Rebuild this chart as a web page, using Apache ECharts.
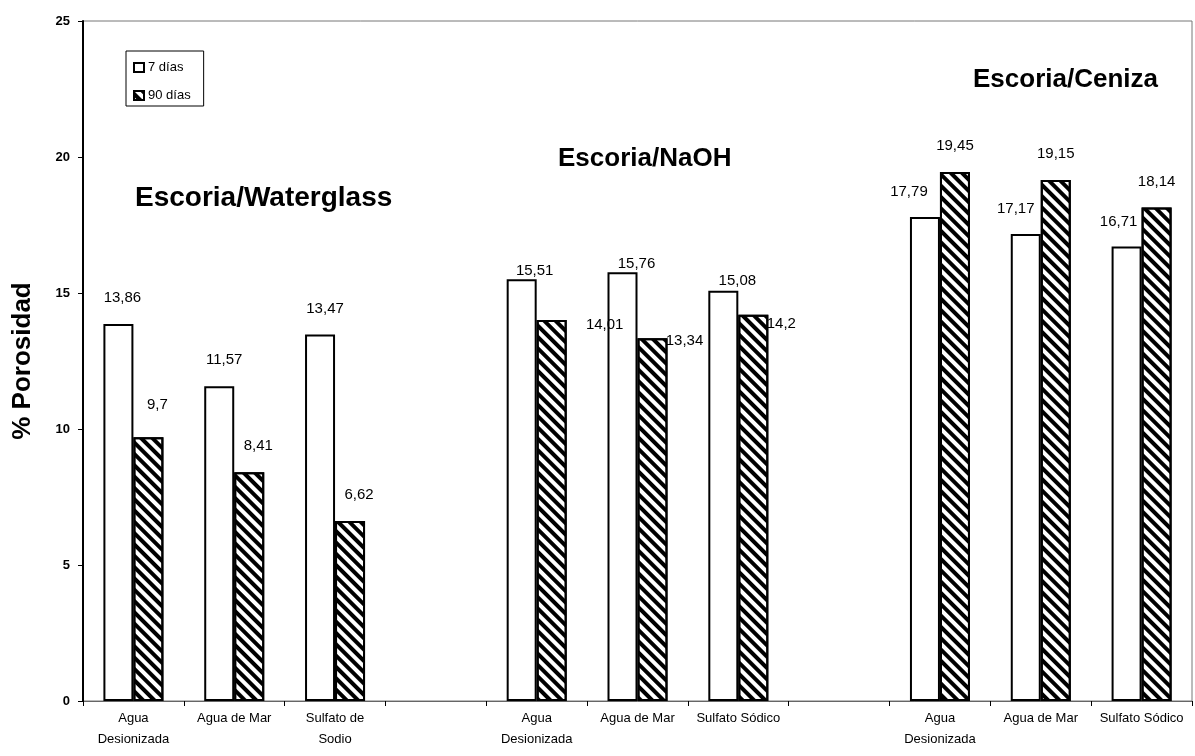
<!DOCTYPE html>
<html>
<head>
<meta charset="utf-8">
<script src="https://cdn.jsdelivr.net/npm/echarts@6/dist/echarts.min.js"></script>
<style>
html,body{margin:0;padding:0;background:#fff;}
#chart{width:1195px;height:756px;}
</style>
</head>
<body>
<div id="chart"></div>
<script>
const categories = ['Agua\nDesionizada', 'Agua de Mar', 'Sulfato de\nSodio', '', 'Agua\nDesionizada', 'Agua de Mar', 'Sulfato Sódico', '', 'Agua\nDesionizada', 'Agua de Mar', 'Sulfato Sódico'];
const dias7 = [13.86, 11.57, 13.47, '-', 15.51, 15.76, 15.08, '-', 17.79, 17.17, 16.71];
const dias90 = [9.7, 8.41, 6.62, '-', 14.01, 13.34, 14.2, '-', 19.45, 19.15, 18.14];
const yTicks = [0, 5, 10, 15, 20, 25];
const groupTitles = ['Escoria/Waterglass', 'Escoria/NaOH', 'Escoria/Ceniza'];
const seriesNames = ['7 días', '90 días'];

// label offsets (style only), relative to bar top-centre
const off7 = [[4,-26],[5,-26],[5,-26],[0,0],[13,-8],[14,-8],[14,-10],[0,0],[-16,-25],[-10,-25],[-8,-25]];
const off90 = [[9,-32],[9,-26],[9,-26],[0,0],[53,5],[32,3],[28,9],[0,0],[0,-26],[0,-26],[0,-26]];

const fmt = v => String(v).replace('.', ',');
function mk(vals, offs) {
  return vals.map((v, i) => v === '-' ? '-' : ({ value: v, label: { offset: offs[i] } }));
}

const chart = echarts.init(document.getElementById('chart'), null, { renderer: 'canvas' });
const labelBase = {
  show: true,
  position: ['50%', 0],
  align: 'center',
  verticalAlign: 'middle',
  fontFamily: 'Liberation Sans, Arial, sans-serif',
  fontSize: 15,
  color: '#000',
  formatter: p => fmt(p.value)
};
chart.setOption({
  animation: false,
  backgroundColor: '#fff',
  grid: { left: 83, right: 3, top: 21, bottom: 55, show: true, borderColor: '#777', borderWidth: 1, containLabel: false },
  legend: {
    left: 126, top: 51, orient: 'vertical', icon: 'rect',
    itemWidth: 10, itemHeight: 9, itemGap: 15,
    padding: [10, 13, 4, 7],
    borderColor: '#000', borderWidth: 1,
    itemStyle: { borderWidth: 2 },
    textStyle: { fontFamily: 'Liberation Sans, Arial', fontSize: 13, color: '#000', padding: [0, 0, 0, -1] },
    data: seriesNames
  },
  xAxis: {
    type: 'category',
    data: categories,
    axisLine: { lineStyle: { color: '#666', width: 1 } },
    axisTick: { show: true, length: 5, lineStyle: { color: '#000' } },
    axisLabel: { interval: 0, margin: 7, lineHeight: 21, fontFamily: 'Liberation Sans, Arial', fontSize: 13, color: '#000' }
  },
  yAxis: {
    type: 'value', min: yTicks[0], max: yTicks[yTicks.length - 1], interval: 5,
    name: '% Porosidad', nameLocation: 'middle', nameGap: 47, nameRotate: 90,
    nameTextStyle: { fontFamily: 'Liberation Sans, Arial', fontWeight: 'bold', fontSize: 26, color: '#000' },
    splitLine: { show: false },
    axisLine: { show: true, lineStyle: { color: '#000', width: 2 } },
    axisTick: { show: true, length: 5, lineStyle: { color: '#000' } },
    axisLabel: { margin: 13, fontFamily: 'Liberation Sans, Arial', fontWeight: 'bold', fontSize: 13, color: '#000' }
  },
  series: [
    {
      name: seriesNames[0], type: 'bar', barWidth: 30, barGap: '0%',
      itemStyle: { color: '#fff', borderColor: '#000', borderWidth: 2 },
      label: labelBase,
      data: mk(dias7, off7)
    },
    {
      name: seriesNames[1], type: 'bar', barWidth: 30, barGap: '0%',
      itemStyle: {
        color: '#fff', borderColor: '#000', borderWidth: 2,
        decal: { symbol: 'rect', symbolSize: 1, color: '#000', dashArrayX: [1, 0], dashArrayY: [4, 4], rotation: Math.PI / 4 }
      },
      label: labelBase,
      data: mk(dias90, off90)
    }
  ],
  graphic: [
    { type: 'text', left: 135, top: 184, style: { text: groupTitles[0], font: 'bold 28px "Liberation Sans", Arial', fill: '#000' } },
    { type: 'text', left: 558, top: 146, style: { text: groupTitles[1], font: 'bold 26px "Liberation Sans", Arial', fill: '#000' } },
    { type: 'text', left: 973, top: 67, style: { text: groupTitles[2], font: 'bold 26px "Liberation Sans", Arial', fill: '#000' } }
  ]
});
</script>
</body>
</html>
